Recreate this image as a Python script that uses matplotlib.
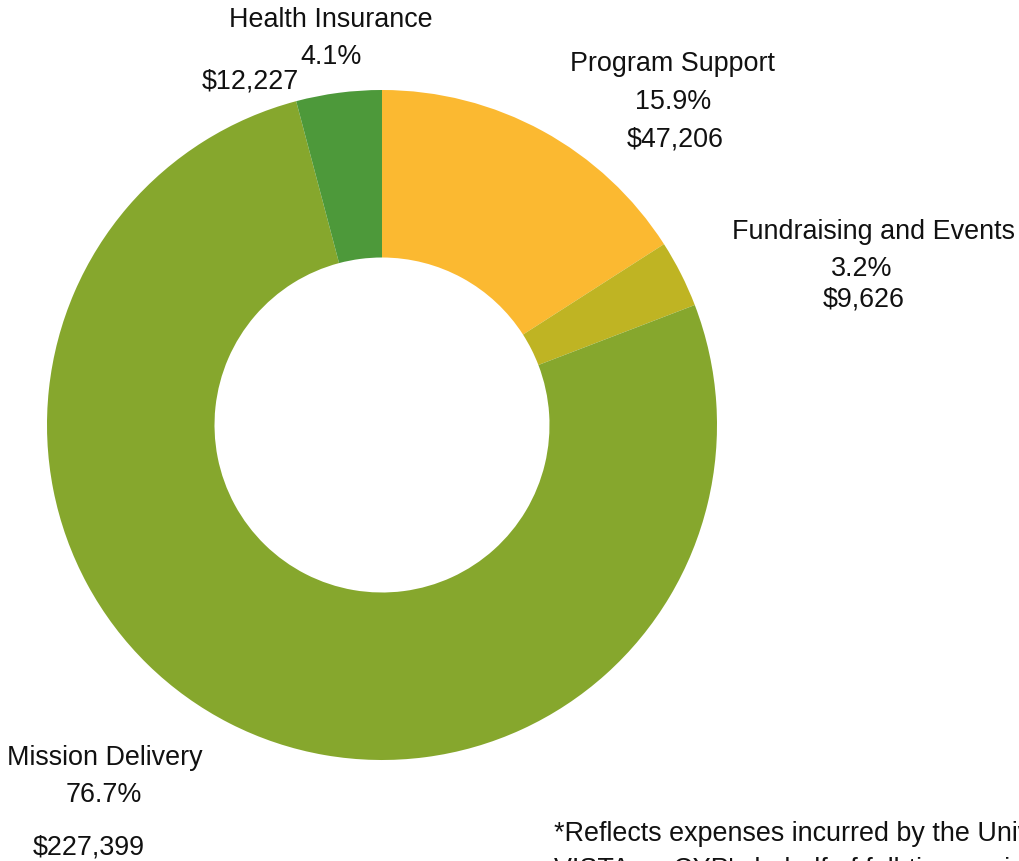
import matplotlib
matplotlib.use("Agg")
import matplotlib.pyplot as plt

categories = ["Program Support", "Fundraising and Events", "Mission Delivery", "Health Insurance"]
amounts = [47206, 9626, 227399, 12227]
pct_labels = ["15.9%", "3.2%", "76.7%", "4.1%"]
amount_labels = ["$47,206", "$9,626", "$227,399", "$12,227"]
footnote = ["*Reflects expenses incurred by the University on behalf of CYP for",
            "VISTA on CYP's behalf of full-time resident members"]

colors = ["#FBB931", "#BFB423", "#86A72D", "#4D993A"]

plt.rcParams['font.family'] = ['Liberation Sans', 'DejaVu Sans']
W, H = 1019, 861
fig = plt.figure(figsize=(W / 100, H / 100), dpi=100)

cx, cy, r = 382, 425, 335
ax = fig.add_axes([(cx - r) / W, (H - cy - r) / H, 2 * r / W, 2 * r / H])
ax.pie(amounts, colors=colors, startangle=90, counterclock=False, radius=1,
       wedgeprops=dict(width=0.5, linewidth=0))
ax.set_xlim(-1, 1)
ax.set_ylim(-1, 1)
ax.set_aspect('equal')
ax.axis('off')

fs = 19.4

def put(x, y, s, ha='center'):
    fig.text(x / W, 1 - (y + 2) / H, s, ha=ha, va='center', fontsize=fs, color='#111111')

# Program Support
put(673, 62, categories[0]); put(673, 100, pct_labels[0]); put(675, 138, amount_labels[0])
# Fundraising
put(874, 230, categories[1]); put(862, 267, pct_labels[1]); put(864, 298, amount_labels[1])
# Mission Delivery
put(105, 756, categories[2]); put(104, 793, pct_labels[2]); put(89, 845, amount_labels[2])
# Health Insurance
put(331, 18, categories[3]); put(331, 55, pct_labels[3]); put(250, 80, amount_labels[3])

# Footnote (cut off by figure edge as in reference)
put(554, 832, footnote[0], ha='left')
put(554, 868, footnote[1], ha='left')

fig.savefig("out.png", dpi=100)
